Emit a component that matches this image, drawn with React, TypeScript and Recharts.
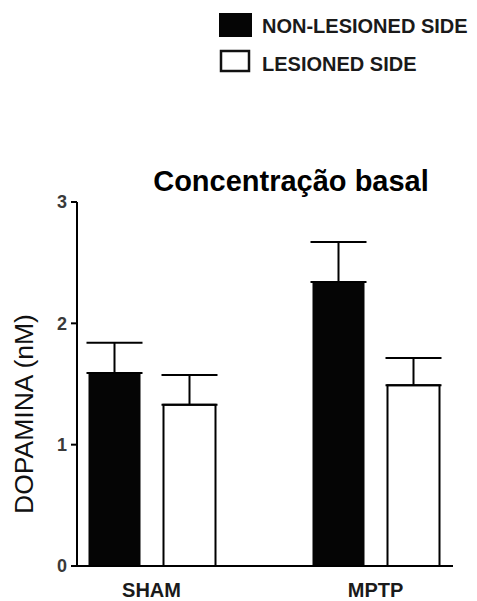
import { Bar, BarChart, ErrorBar, Legend, XAxis, YAxis } from 'recharts';

// values (nM)
const categories = ['SHAM', 'MPTP'];
const seriesNames = ['NON-LESIONED SIDE', 'LESIONED SIDE'];
const nonLesioned = [1.59, 2.34];
const lesioned = [1.33, 1.49];
const nonLesionedErr = [0.25, 0.33];
const lesionedErr = [0.245, 0.225];
const yTicks = [0, 1, 2, 3];

const data = categories.map((group, i) => ({
  group,
  non: nonLesioned[i],
  les: lesioned[i],
  nonErr: [0, nonLesionedErr[i]],
  lesErr: [0, lesionedErr[i]],
}));

const FONT = '"Liberation Sans", Arial, sans-serif';

const LegendBox = ({ payload }: any) => {
  const items = [...(payload || [])].sort(
    (a: any, b: any) => seriesNames.indexOf(a.value) - seriesNames.indexOf(b.value)
  );
  return (
    <svg width={258} height={80} style={{ overflow: 'visible', display: 'block' }}>
      {items.map((entry: any, i: number) => (
        <g key={entry.value} transform={`translate(0, ${i * 38})`}>
          {i === 0 ? (
            <rect x={0} y={3} width={33} height={24} fill={entry.color} />
          ) : (
            <rect x={2} y={3} width={28} height={20} fill={entry.color} stroke="#111" strokeWidth={2.5} />
          )}
          <text x={43} y={23} fontFamily={FONT} fontWeight="bold" fontSize={20} fill="#1a1a1a">
            {entry.value}
          </text>
        </g>
      ))}
    </svg>
  );
};

const YLabel = () => (
  <text
    x={24}
    y={414}
    transform="rotate(-90, 24, 414)"
    textAnchor="middle"
    dominantBaseline="central"
    fontFamily={FONT}
    fontSize={26.5}
    fill="#111"
  >
    DOPAMINA (nM)
  </text>
);

export default function App() {
  return (
    <div style={{ position: 'absolute', left: 0, top: 0, width: 477, height: 601, background: '#fff' }}>
      <BarChart
        width={477}
        height={601}
        data={data}
        margin={{ top: 202, right: 24, bottom: 5, left: 37 }}
        barGap={23}
        barSize={52}
      >
        <XAxis
          dataKey="group"
          height={30}
          padding={{ left: -37.5, right: -34.5 }}
          axisLine={{ stroke: '#000', strokeWidth: 2 }}
          tickLine={false}
          tickSize={6}
          tickMargin={11}
          fontSize={20}
          tick={{ fill: '#1a1a1a', fontSize: 20, fontWeight: 'bold', fontFamily: FONT }}
        />
        <YAxis
          width={40}
          domain={[0, 3]}
          ticks={yTicks}
          axisLine={{ stroke: '#000', strokeWidth: 2 }}
          tickLine={{ stroke: '#000', strokeWidth: 2 }}
          tickSize={6}
          tickMargin={4}
          fontSize={18}
          tick={{ fill: '#3a3a3a', fontSize: 18, fontWeight: 'bold', fontFamily: FONT }}
          label={<YLabel />}
        />
        <Legend
          layout="vertical"
          align="center"
          verticalAlign="middle"
          content={<LegendBox />}
          wrapperStyle={{ position: 'absolute', top: 10, left: 219, width: 258 }}
        />
        <Bar dataKey="non" name={seriesNames[0]} fill="#050505" isAnimationActive={false}>
          <ErrorBar dataKey="nonErr" width={28} stroke="#000" strokeWidth={2} direction="y" />
        </Bar>
        <Bar dataKey="les" name={seriesNames[1]} fill="#ffffff" stroke="#000" strokeWidth={2} isAnimationActive={false}>
          <ErrorBar dataKey="lesErr" width={28} stroke="#000" strokeWidth={2} direction="y" />
        </Bar>
      </BarChart>
      <div
        style={{
          position: 'absolute',
          top: 165,
          left: 150,
          width: 282,
          textAlign: 'center',
          fontFamily: FONT,
          fontWeight: 'bold',
          fontSize: 29,
          color: '#000',
          whiteSpace: 'nowrap',
        }}
      >
        Concentração basal
      </div>
    </div>
  );
}
